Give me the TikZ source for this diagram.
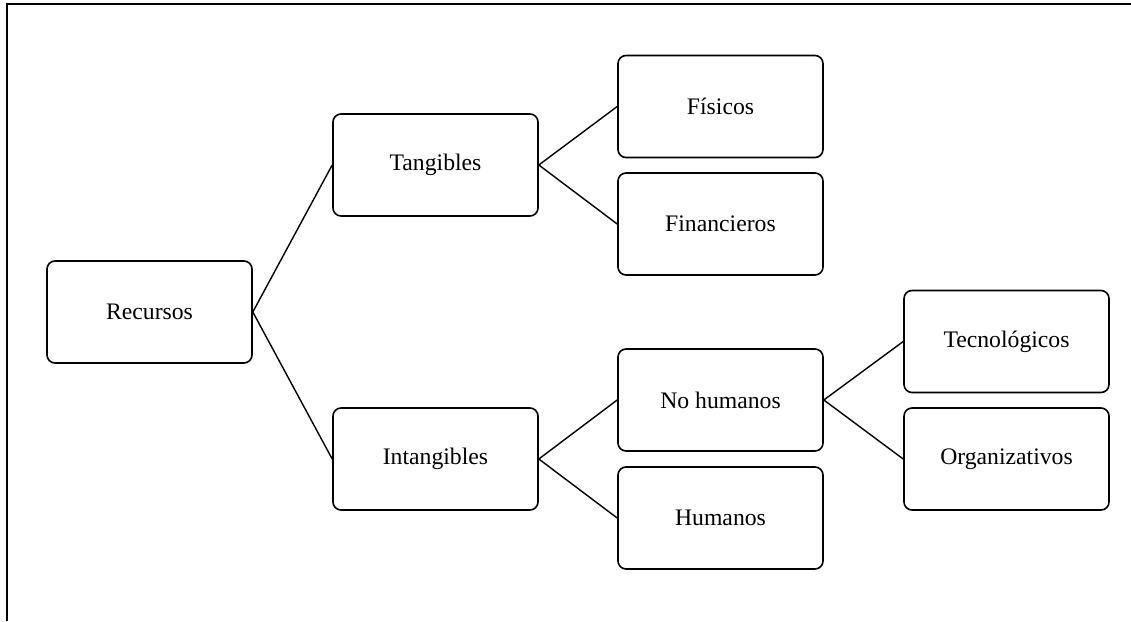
\documentclass[tikz,border=0pt]{standalone}
\usepackage{fontspec}
\setmainfont{Liberation Serif}
\begin{document}
\begin{tikzpicture}[x=1pt,y=-1pt,
  box/.style={draw,line width=1.6pt,rounded corners=8pt,rectangle,
    minimum width=205pt,minimum height=102pt,inner sep=0pt,
    font=\fontsize{23.7}{28}\selectfont},
  link/.style={line width=1.4pt}]
\useasboundingbox (0,0) rectangle (1131,621);
% frame: top and left edges only
\coordinate (ftl) at (7,4);
\coordinate (ftr) at (1131,4);
\coordinate (fbl) at (7,621);
\draw[line width=2pt] (ftr) -- (ftl) -- (fbl);

\node[box] (rec) at (149.5,312) {Recursos};
\node[box] (tan) at (435.5,165) {Tangibles};
\node[box] (int) at (435.5,459) {Intangibles};
\node[box] (fis) at (720.5,106.5) {Físicos};
\node[box] (fin) at (720.5,224) {Financieros};
\node[box] (noh) at (720.5,400) {No humanos};
\node[box] (hum) at (720.5,518) {Humanos};
\node[box] (tec) at (1006.5,341.5) {Tecnológicos};
\node[box] (org) at (1006.5,459) {Organizativos};

\draw[link] (rec.east) -- (tan.west);
\draw[link] (rec.east) -- (int.west);
\draw[link] (tan.east) -- (fis.west);
\draw[link] (tan.east) -- (fin.west);
\draw[link] (int.east) -- (noh.west);
\draw[link] (int.east) -- (hum.west);
\draw[link] (noh.east) -- (tec.west);
\draw[link] (noh.east) -- (org.west);
\end{tikzpicture}
\end{document}
